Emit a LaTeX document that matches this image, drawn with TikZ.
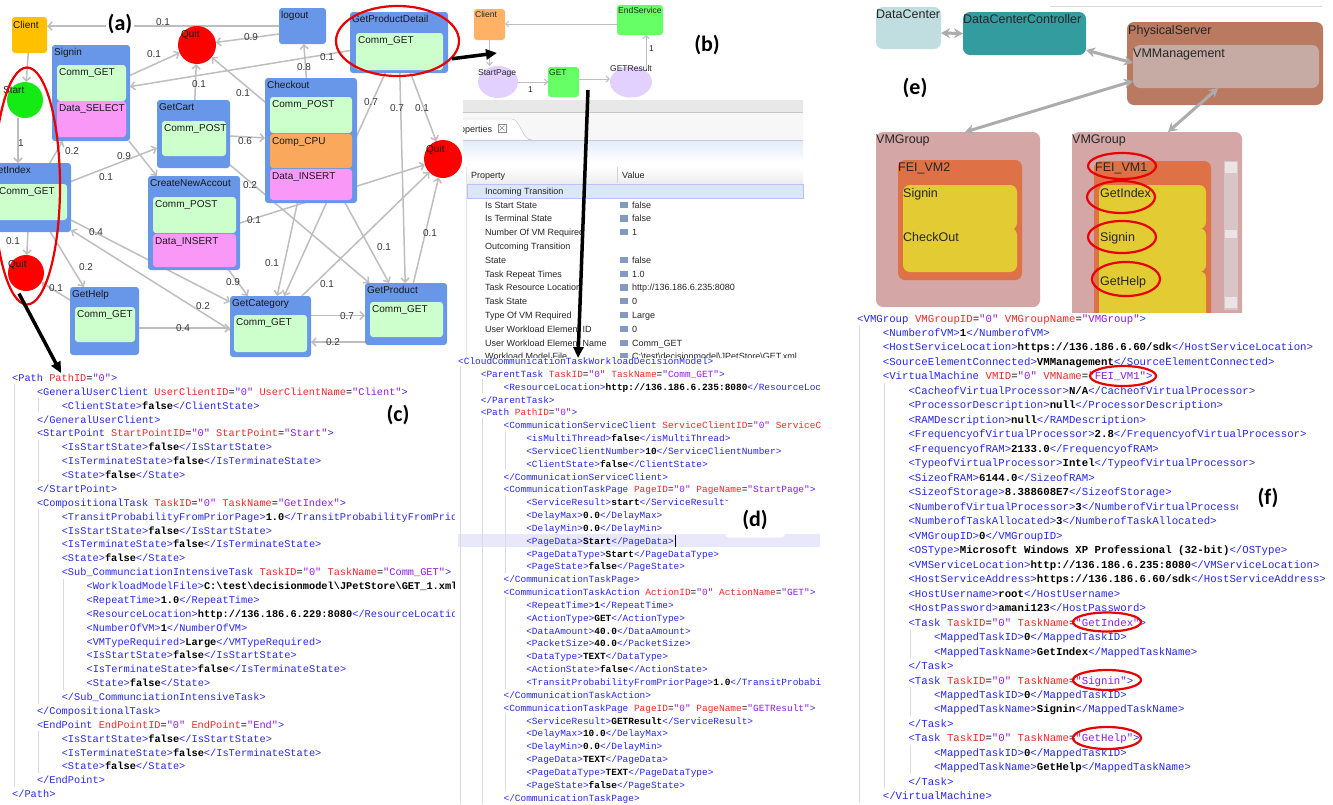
\documentclass[tikz,border=0pt]{standalone}
\usepackage{fontspec}
\setmainfont{Liberation Sans}
\setmonofont{Liberation Mono}
\newfontfamily\labfont{Carlito}
\usetikzlibrary{arrows.meta,calc,shapes.geometric}
\pgfdeclarelayer{bgfill}
\pgfdeclarelayer{bg}
\pgfsetlayers{bgfill,bg,main}
\newcommand\fsz[1]{\fontsize{#1}{#1}\selectfont}
\definecolor{xtag}{RGB}{40,40,235}
\definecolor{xatt}{RGB}{245,40,40}
\definecolor{xval}{RGB}{145,25,240}
\definecolor{boxblue}{RGB}{104,150,232}
\definecolor{ingreen}{RGB}{204,255,204}
\definecolor{inpink}{RGB}{250,152,248}
\definecolor{inorange}{RGB}{250,168,92}
\definecolor{aclient}{RGB}{255,192,0}
\definecolor{quitred}{RGB}{255,0,0}
\definecolor{startgreen}{RGB}{20,235,20}
\definecolor{edgegrey}{RGB}{190,190,190}
\definecolor{labgrey}{RGB}{55,55,55}
\definecolor{bclient}{RGB}{255,178,102}
\definecolor{bgreen}{RGB}{102,255,102}
\definecolor{blav}{RGB}{226,208,255}
\definecolor{dclight}{RGB}{192,222,224}
\definecolor{dcteal}{RGB}{51,156,158}
\definecolor{psbrown}{RGB}{186,121,97}
\definecolor{vmmgrey}{RGB}{198,171,164}
\definecolor{vmgpink}{RGB}{212,166,166}
\definecolor{feiorange}{RGB}{222,114,70}
\definecolor{vyellow}{RGB}{227,203,52}
\definecolor{scrollc}{RGB}{216,198,198}
\definecolor{scrollt}{RGB}{236,228,228}
\definecolor{earrc}{RGB}{172,172,172}
\definecolor{hlrow}{RGB}{218,231,248}
\definecolor{pdhl}{RGB}{232,232,250}
\definecolor{ringred}{RGB}{232,0,0}
\definecolor{iconc}{RGB}{130,155,195}
% XML helpers
\newcommand\xo[1]{\textcolor{xtag}{<#1>}}
\newcommand\xc[1]{\textcolor{xtag}{</#1>}}
\newcommand\xb[1]{\textcolor{xtag}{<#1}}
\newcommand\xe{\textcolor{xtag}{>}}
\newcommand\xa[2]{ \textcolor{xatt}{#1}=\textcolor{xval}{"#2"}}
\newcommand\xv[1]{\textbf{#1}}
\newcommand\xs[2]{\xo{#1}\xv{#2}\xc{#1}}
\newcount\xln
\newcommand\xsetup[5]{\gdef\xP{#1}\gdef\xX{#2}\gdef\xY{#3}\gdef\xI{#4}\gdef\xD{#5}\global\xln=0\relax}
\newcommand\xl[2]{\node[xmlline] (\xP\the\xln) at ({\xX+#1*\xI},{\xY+\the\xln*\xD}) {#2};\global\advance\xln by 1\relax}
\newcommand\xg[3]{\draw[xguide] ({\xX+#1*\xI+2},{\xY-11+#2*\xD}) -- ({\xX+#1*\xI+2},{\xY+3+#3*\xD});}
% graph helpers
\newcommand\atbox[6]{\node[tb, minimum width={#4-(#2)}, minimum height={#5-(#3)}] (#1) at ({(#2+#4)/2},{(#3+#5)/2}) {};\node[tt] (#1-t) at ({#2+2},{#3+3}) {#6};}
\newcommand\aibox[7]{\node[ib, fill=#6, minimum width={#4-(#2)}, minimum height={#5-(#3)}] (#1) at ({(#2+#4)/2},{(#3+#5)/2}) {};\node[tt] (#1-t) at ({#2+2},{#3+3}) {#7};}
\newcommand\prow[3]{\node[ptext] (pp#1) at (485,{194.3+#1*13.8}) {#2};\node[ptext] (pv#1) at (632,{194.3+#1*13.8}) {#3};}
\newcommand\picon[1]{\fill[iconc] (620,{187.8+#1*13.8}) rectangle (628,{194+#1*13.8});}
\tikzset{
 tb/.style={fill=boxblue,rounded corners=3pt,inner sep=0pt,outer sep=0pt,draw=none},
 ib/.style={rounded corners=3pt,inner sep=0pt,outer sep=0pt,draw=none},
 tt/.style={anchor=north west,inner sep=0pt,font=\fsz{10},text=black!90},
 qcirc/.style={circle,inner sep=0pt,outer sep=0pt,draw=none},
 aedge/.style={draw=edgegrey,line width=1.5pt,-{Straight Barb[length=4pt,width=8pt]}},
 elab/.style={inner sep=0pt,font=\fsz{10},text=labgrey},
 bedge/.style={draw=edgegrey,line width=1pt,-{Straight Barb[length=3pt,width=6pt]}},
 btext/.style={anchor=north west,inner sep=0pt,font=\fsz{8.5},text=black!85},
 panlab/.style={inner sep=0pt,font=\labfont\bfseries\fsz{22}},
 ring/.style={ellipse,draw=ringred,line width=2.2pt,inner sep=0pt},
 bigarrow/.style={line width=3.5pt,-{Triangle[length=11pt,width=10pt]}},
 ptext/.style={anchor=base west,inner sep=0pt,font=\fsz{9},text=black!85},
 xmlline/.style={anchor=base west,inner sep=0pt},
 xguide/.style={draw=black!14,line width=0.8pt},
 ebox/.style={rounded corners=7pt,inner sep=0pt,outer sep=0pt,draw=none},
 etext/.style={anchor=north west,inner sep=0pt,font=\fsz{12.5},text=black!85},
 earr/.style={draw=earrc,line width=3pt,{Stealth[length=9pt,width=10pt]}-{Stealth[length=9pt,width=10pt]}},
}
\begin{document}
\begin{tikzpicture}[x=1pt,y=-1pt]
\useasboundingbox (0,0) rectangle (1333,804);
\begin{pgfonlayer}{bgfill}
\fill[white] (0,0) rectangle (1333,804);
\end{pgfonlayer}

% ================= (a) graph =================
\node[ib, fill=aclient, minimum width=35, minimum height=36] (client) at (29.5,35) {};
\node[tt] (client-t) at (13,21) {Client};
\node[qcirc, fill=quitred, minimum size=38] (quitA) at (197,45) {};
\node[tt] (quitA-t) at (181,30) {Quit};
\atbox{logout}{279}{8}{326}{44}{logout}
\atbox{gpd}{350}{12}{448}{73}{GetProductDetail}
\aibox{gpdi}{356}{33}{443}{70}{ingreen}{Comm\_GET}
\atbox{signin}{52}{45}{130}{141}{Signin}
\aibox{signa}{57}{65}{126}{101}{ingreen}{Comm\_GET}
\aibox{signb}{57}{101}{126}{137}{inpink}{Data\_SELECT}
\node[qcirc, fill=startgreen, minimum size=36] (start) at (25,100) {};
\node[tt] (start-t) at (3,86) {Start};
\atbox{getcart}{157}{100}{230}{168}{GetCart}
\aibox{getcarti}{162}{121}{226}{156}{ingreen}{Comm\_POST}
\atbox{checkout}{265}{78}{357}{203}{Checkout}
\aibox{checka}{270}{97}{352}{133}{ingreen}{Comm\_POST}
\aibox{checkb}{270}{134}{352}{168}{inorange}{Comp\_CPU}
\aibox{checkc}{270}{169}{352}{200}{inpink}{Data\_INSERT}
\node[qcirc, fill=quitred, minimum size=38] (quitC) at (443,159) {};
\node[tt] (quitC-t) at (426,145) {Quit};
\atbox{getindex}{-12}{163}{71}{232}{GetIndex}
\aibox{getindexi}{-3}{184}{67}{220}{ingreen}{Comm\_GET}
\atbox{createnew}{148}{176}{240}{270}{CreateNewAccout}
\aibox{createa}{153}{197}{236}{233}{ingreen}{Comm\_POST}
\aibox{createb}{153}{234}{236}{267}{inpink}{Data\_INSERT}
\node[qcirc, fill=quitred, minimum size=36] (quitB) at (26,273) {};
\node[tt] (quitB-t) at (8,260) {Quit};
\atbox{gethelp}{70}{287}{139}{355}{GetHelp}
\aibox{gethelpi}{75}{307}{135}{342}{ingreen}{Comm\_GET}
\atbox{getcat}{230}{296}{311}{357}{GetCategory}
\aibox{getcati}{234}{315}{307}{352}{ingreen}{Comm\_GET}
\atbox{getprod}{365}{283}{447}{345}{GetProduct}
\aibox{getprodi}{370}{302}{443}{337}{ingreen}{Comm\_GET}

\begin{pgfonlayer}{bg}
\draw[aedge] (logout.west) -- (logout.west -| client.east);
\draw[aedge] ([yshift=-8]logout.west) -- (quitA);
\draw[aedge] (signin) -- (quitA);
\draw[aedge] (getcart) -- (quitA);
\draw[aedge] (checkout) -- (quitA);
\draw[aedge] (gpd) -- (signin);
\draw[aedge] (client) -- (start);
\draw[aedge] ([xshift=-7]start.south) -- ([xshift=-7]start.south |- getindex.north);
\draw[aedge] (getindex) -- (signin);
\draw[aedge] (getindex) -- (getcart);
\draw[aedge] (signin) -- (createnew);
\draw[aedge] (getcart) -- (checkout);
\draw[aedge] (checkout) -- (logout);
\draw[aedge] (getcart) -- (getprod);
\draw[aedge] (createnew.east) -- (quitC);
\draw[aedge] (createnew) -- (getcat);
\draw[aedge] ([yshift=-34]getcat.north west) -- ([yshift=2]getindex.south east);
\draw[aedge] ([yshift=12]getindex.south east) -- ([yshift=-6]getcat.north west);
\draw[aedge] ([yshift=-7]gethelp.east) -- ([yshift=-7]gethelp.east -| getcat.west);
\draw[aedge] (gethelp) -- (quitB);
\draw[aedge] (getindex) -- (quitB);
\draw[aedge] (getindex) -- (gethelp);
\draw[aedge] (gpd) -- (getcat);
\draw[aedge] (checkout) -- (getcat);
\draw[aedge] (gpd) -- (getprod);
\draw[aedge] (gpd) -- (quitC);
\draw[aedge] (getprod) -- (quitC);
\draw[aedge] (getcat) -- (quitC);
\draw[aedge] (checkout) -- (getprod);
\draw[aedge] ([yshift=11]getcat.east) -- ([yshift=11]getcat.east -| getprod.west);
\draw[aedge] ([yshift=-28]getprod.west) -- ([yshift=-28]getprod.west -| getcat.east);
\end{pgfonlayer}

\node[elab] (e1) at (163,22) {0.1};
\node[elab] (e2) at (251,37) {0.9};
\node[elab] (e3) at (154,54) {0.1};
\node[elab] (e4) at (199,84) {0.1};
\node[elab] (e5) at (243,93) {0.1};
\node[elab] (e6) at (327,57) {0.1};
\node[elab] (e7) at (21,143) {1};
\node[elab] (e8) at (72,151) {0.2};
\node[elab] (e9) at (106,177) {0.1};
\node[elab] (e10) at (124,156) {0.9};
\node[elab] (e11) at (245,141) {0.6};
\node[elab] (e12) at (304,67) {0.8};
\node[elab] (e13) at (250,185) {0.2};
\node[elab] (e14) at (254,220) {0.1};
\node[elab] (e15) at (233,282) {0.9};
\node[elab] (e16) at (96,232) {0.4};
\node[elab] (e17) at (203,306) {0.2};
\node[elab] (e18) at (183,328) {0.4};
\node[elab] (e19) at (56,288) {0.1};
\node[elab] (e20) at (13,241) {0.1};
\node[elab] (e21) at (86,267) {0.2};
\node[elab] (e22) at (371,102) {0.7};
\node[elab] (e23) at (272,263) {0.1};
\node[elab] (e24) at (397,108) {0.7};
\node[elab] (e25) at (422,108) {0.1};
\node[elab] (e26) at (430,233) {0.1};
\node[elab] (e27) at (327,284) {0.1};
\node[elab] (e28) at (384,247) {0.1};
\node[elab] (e29) at (347,316) {0.7};
\node[elab] (e30) at (333,342) {0.2};
\node[panlab, fill=white, inner sep=2pt] (laba) at (120,24) {(a)};

% ================= (b) =================
\node[ib, fill=bclient, minimum width=31, minimum height=31] (bclient) at (489.5,24.5) {};
\node[btext] (bclient-t) at (475,11) {Client};
\node[ib, fill=bgreen, minimum width=46, minimum height=30] (endsvc) at (640,20) {};
\node[btext] (endsvc-t) at (618,7) {EndService};
\node[ellipse, fill=blav, inner sep=0pt, minimum width=40, minimum height=32] (startpage) at (498,82) {};
\node[btext] (startpage-t) at (478,69) {StartPage};
\node[ib, fill=bgreen, minimum width=31, minimum height=30] (get) at (563.5,82) {};
\node[btext] (get-t) at (549,69) {GET};
\node[ellipse, fill=blav, inner sep=0pt, minimum width=42, minimum height=31] (getresult) at (631,82) {};
\node[btext] (getresult-t) at (610,65) {GETResult};
\coordinate (grtop) at (646,69);
\draw[bedge] ([yshift=-4]endsvc.west) -- ([yshift=-4]endsvc.west -| bclient.east);
\draw[bedge] (bclient.south) -- (bclient.south |- startpage.north);
\draw[bedge] (startpage.east) -- (get.west);
\draw[bedge] ([yshift=3]get.east) -- ([yshift=3]get.east -| getresult.west);
\draw[bedge] (grtop) -- (grtop |- endsvc.south);
\node[btext] (b1) at (528,86) {1};
\node[btext] (b2) at (649,45) {1};
\node[panlab] (labb) at (707,45) {(b)};

% ================= properties panel =================
\begin{scope}
\clip (463,98) rectangle (805,360);
\fill[black!9] (463,100) rectangle (803,112);
\draw[black!22] (463,112) -- (803,112);
\fill[black!3] (463,113) rectangle (803,140);
\draw[black!25, fill=white] (440,140) -- (440,119) -- (512,119) .. controls (520,119) and (522,140) .. (532,140) -- cycle;
\node[ptext] (ptab) at (451,132.5) {Properties};
\draw[black!45, line width=0.6pt] (498,124) rectangle (506,132);
\draw[black!45, line width=0.6pt] (499.5,125.5) -- (504.5,130.5) (504.5,125.5) -- (499.5,130.5);
\shade[top color=hlrow!80, bottom color=white] (463,140.5) rectangle (803,162);
\draw[black!20] (463,140) -- (803,140);
\shade[top color=white, bottom color=black!7] (466,167) rectangle (803,183);
\draw[black!18] (617,167) -- (617,183);
\draw[black!10] (466,167) -- (466,360);
\node[ptext] (phead) at (471,178.5) {Property};
\node[ptext] (vhead) at (622,178.5) {Value};
\fill[hlrow] (467,184) rectangle (803,198);
\draw[blue!25] (467,184) rectangle (803,198);
\prow{0}{Incoming Transition}{}
\prow{1}{Is Start State}{false}\picon{1}
\prow{2}{Is Terminal State}{false}\picon{2}
\prow{3}{Number Of VM Required}{1}\picon{3}
\prow{4}{Outcoming Transition}{}
\prow{5}{State}{false}\picon{5}
\prow{6}{Task Repeat Times}{1.0}\picon{6}
\prow{7}{Task Resource Location}{http://136.186.6.235:8080}\picon{7}
\prow{8}{Task State}{0}\picon{8}
\prow{9}{Type Of VM Required}{Large}\picon{9}
\prow{10}{User Workload Element ID}{0}\picon{10}
\prow{11}{User Workload Element Name}{Comm\_GET}\picon{11}
\prow{12}{Workload Model File}{C:\textbackslash test\textbackslash decisionmodel\textbackslash JPetStore\textbackslash GET.xml}\picon{12}
\end{scope}

% ================= (c) XML =================
\begin{scope}[font=\ttfamily\fsz{10.3}]
\clip (0,362) rectangle (456,804);
\xsetup{xc}{12}{381.5}{24.8}{13.87}
\xg{0}{1}{29}\xg{1}{2}{2}\xg{1}{5}{7}\xg{1}{10}{23}\xg{2}{15}{22}\xg{1}{26}{28}
\xl0{\xb{Path}\xa{PathID}{0}\xe}
\xl1{\xb{GeneralUserClient}\xa{UserClientID}{0}\xa{UserClientName}{Client}\xe}
\xl2{\xs{ClientState}{false}}
\xl1{\xc{GeneralUserClient}}
\xl1{\xb{StartPoint}\xa{StartPointID}{0}\xa{StartPoint}{Start}\xe}
\xl2{\xs{IsStartState}{false}}
\xl2{\xs{IsTerminateState}{false}}
\xl2{\xs{State}{false}}
\xl1{\xc{StartPoint}}
\xl1{\xb{CompositionalTask}\xa{TaskID}{0}\xa{TaskName}{GetIndex}\xe}
\xl2{\xs{TransitProbabilityFromPriorPage}{1.0}}
\xl2{\xs{IsStartState}{false}}
\xl2{\xs{IsTerminateState}{false}}
\xl2{\xs{State}{false}}
\xl2{\xb{Sub\_CommunciationIntensiveTask}\xa{TaskID}{0}\xa{TaskName}{Comm\_GET}\xe}
\xl3{\xo{WorkloadModelFile}\xv{C:\textbackslash test\textbackslash decisionmodel\textbackslash JPetStore\textbackslash GET\_1.xml}\xc{WorkloadModelFile}}
\xl3{\xs{RepeatTime}{1.0}}
\xl3{\xs{ResourceLocation}{http://136.186.6.229:8080}}
\xl3{\xs{NumberOfVM}{1}}
\xl3{\xs{VMTypeRequired}{Large}}
\xl3{\xs{IsStartState}{false}}
\xl3{\xs{IsTerminateState}{false}}
\xl3{\xs{State}{false}}
\xl2{\xc{Sub\_CommunciationIntensiveTask}}
\xl1{\xc{CompositionalTask}}
\xl1{\xb{EndPoint}\xa{EndPointID}{0}\xa{EndPoint}{End}\xe}
\xl2{\xs{IsStartState}{false}}
\xl2{\xs{IsTerminateState}{false}}
\xl2{\xs{State}{false}}
\xl1{\xc{EndPoint}}
\xl0{\xc{Path}}
\end{scope}
\node[panlab] (labc) at (398,415) {(c)};

% ================= (d) XML =================
\fill[white] (455,358) rectangle (825,804);
\fill[pdhl] (458,534) rectangle (820,547);
\begin{scope}[font=\ttfamily\fsz{9.45}]
\clip (455,350) rectangle (820,804);
\xsetup{xd}{458}{364.5}{22.7}{12.84}
\xg{0}{1}{34}\xg{1}{2}{2}\xg{1}{5}{34}\xg{2}{6}{8}\xg{2}{11}{16}\xg{2}{19}{25}\xg{2}{28}{33}
\xl0{\xo{CloudCommunicationTaskWorkloadDecisionModel}}
\xl1{\xb{ParentTask}\xa{TaskID}{0}\xa{TaskName}{Comm\_GET}\xe}
\xl2{\xs{ResourceLocation}{http://136.186.6.235:8080}}
\xl1{\xc{ParentTask}}
\xl1{\xb{Path}\xa{PathID}{0}\xe}
\xl2{\xb{CommunicationServiceClient}\xa{ServiceClientID}{0}\xa{ServiceClientName}{Client}\xe}
\xl3{\xs{isMultiThread}{false}}
\xl3{\xs{ServiceClientNumber}{10}}
\xl3{\xs{ClientState}{false}}
\xl2{\xc{CommunicationServiceClient}}
\xl2{\xb{CommunicationTaskPage}\xa{PageID}{0}\xa{PageName}{StartPage}\xe}
\xl3{\xs{ServiceResult}{start}}
\xl3{\xs{DelayMax}{0.0}}
\xl3{\xs{DelayMin}{0.0}}
\xl3{\xs{PageData}{Start}}
\xl3{\xs{PageDataType}{Start}}
\xl3{\xs{PageState}{false}}
\xl2{\xc{CommunicationTaskPage}}
\xl2{\xb{CommunicationTaskAction}\xa{ActionID}{0}\xa{ActionName}{GET}\xe}
\xl3{\xs{RepeatTime}{1}}
\xl3{\xs{ActionType}{GET}}
\xl3{\xs{DataAmount}{40.0}}
\xl3{\xs{PacketSize}{40.0}}
\xl3{\xs{DataType}{TEXT}}
\xl3{\xs{ActionState}{false}}
\xl3{\xs{TransitProbabilityFromPriorPage}{1.0}}
\xl2{\xc{CommunicationTaskAction}}
\xl2{\xb{CommunicationTaskPage}\xa{PageID}{0}\xa{PageName}{GETResult}\xe}
\xl3{\xs{ServiceResult}{GETResult}}
\xl3{\xs{DelayMax}{10.0}}
\xl3{\xs{DelayMin}{0.0}}
\xl3{\xs{PageData}{TEXT}}
\xl3{\xs{PageDataType}{TEXT}}
\xl3{\xs{PageState}{false}}
\xl2{\xc{CommunicationTaskPage}}
\end{scope}
\draw[black, line width=0.8pt] (675,534.5) -- (675,546.5);
\node[fill=white, rounded corners=4pt, inner sep=0pt, minimum width=60, minimum height=37] (dbg) at (755,519) {};
\node[panlab] (labd) at (755,520) {(d)};

% ================= (e) =================
\draw[black!15, line width=1pt] (1050,6) -- (1322,6);
\node[ebox, fill=dclight, minimum width=65, minimum height=42] (dc) at (908.5,28) {};
\node[etext] (dct) at (876,10) {DataCenter};
\node[ebox, fill=dcteal, minimum width=123, minimum height=43] (dcc) at (1024.5,33.5) {};
\node[etext] (dcct) at (963,14) {DataCenterController};
\node[ebox, fill=psbrown, minimum width=196, minimum height=83] (ps) at (1225,63.5) {};
\node[etext] (pst) at (1128,25) {PhysicalServer};
\node[ebox, fill=vmmgrey, minimum width=186, minimum height=43] (vmm) at (1226,66.5) {};
\node[etext] (vmmt) at (1133,49) {VMManagement};
\node[ebox, fill=vmgpink, minimum width=164, minimum height=175] (vmg1) at (958,219.5) {};
\node[etext] (vmg1t) at (876,135) {VMGroup};
\node[ebox, fill=feiorange, minimum width=124, minimum height=120] (fei2) at (960,220) {};
\node[etext] (fei2t) at (898,163) {FEI\_VM2};
\node[ebox, fill=vyellow, minimum width=114, minimum height=45] (y2a) at (960,207.5) {};
\node[ebox, fill=vyellow, minimum width=114, minimum height=44] (y2b) at (960,250) {};
\fill[vyellow] (903,193) rectangle (960,264);
\node[etext] (y2at) at (903,188) {Signin};
\node[etext] (y2bt) at (903,232) {CheckOut};
\node[ebox, fill=vmgpink, minimum width=170, minimum height=200] (vmg2) at (1157,232) {};
\node[etext] (vmg2t) at (1072,135) {VMGroup};
\node[ebox, fill=feiorange, minimum width=117, minimum height=170] (fei1) at (1152.5,246) {};
\node[etext] (fei1t) at (1095,163) {FEI\_VM1};
\node[ebox, fill=vyellow, minimum width=107, minimum height=44] (y1a) at (1152.5,207) {};
\node[ebox, fill=vyellow, minimum width=107, minimum height=44] (y1b) at (1152.5,250) {};
\node[ebox, fill=vyellow, minimum width=107, minimum height=60] (y1c) at (1152.5,301) {};
\fill[vyellow] (1099,193) rectangle (1150,320);
\node[etext] (y1at) at (1100,188) {GetIndex};
\node[etext] (y1bt) at (1100,232) {Signin};
\node[etext] (y1ct) at (1100,276) {GetHelp};
\fill[scrollc] (1224,161) rectangle (1238,310);
\fill[scrollt] (1225,162) rectangle (1237,173);
\fill[scrollt] (1225,230) rectangle (1237,238);
\fill[scrollt] (1225,297) rectangle (1237,308);
\draw[earr] ([yshift=-5]dc.east) -- (dcc.west);
\draw[earr] ([yshift=-16.5]dcc.east) -- ([yshift=-18]vmm.north west);
\draw[earr] ([yshift=-36]vmm.north west) -- ([xshift=7]vmg1.north);
\draw[earr] ([xshift=-8]vmm.south) -- ([xshift=11]vmg2.north);
\node[panlab] (labe) at (915,88) {(e)};

% ================= (f) XML =================
\fill[white] (850,313) rectangle (1333,804);
\begin{scope}[font=\ttfamily\fsz{10.7}]
\clip (850,308) rectangle (1324,804);
\xsetup{xf}{857}{322}{25.65}{14.48}
\xg{0}{1}{33}\xg{1}{5}{32}\xg{2}{22}{23}\xg{2}{26}{27}\xg{2}{30}{31}
\xl0{\xb{VMGroup}\xa{VMGroupID}{0}\xa{VMGroupName}{VMGroup}\xe}
\xl1{\xs{NumberofVM}{1}}
\xl1{\xs{HostServiceLocation}{https://136.186.6.60/sdk}}
\xl1{\xs{SourceElementConnected}{VMManagement}}
\xl1{\xb{VirtualMachine}\xa{VMID}{0}\xa{VMName}{FEI\_VM1}\xe}
\xl2{\xs{CacheofVirtualProcessor}{N/A}}
\xl2{\xs{ProcessorDescription}{null}}
\xl2{\xs{RAMDescription}{null}}
\xl2{\xs{FrequencyofVirtualProcessor}{2.8}}
\xl2{\xs{FrequencyofRAM}{2133.0}}
\xl2{\xs{TypeofVirtualProcessor}{Intel}}
\xl2{\xs{SizeofRAM}{6144.0}}
\xl2{\xs{SizeofStorage}{8.388608E7}}
\xl2{\xs{NumberofVirtualProcessor}{3}}
\xl2{\xs{NumberofTaskAllocated}{3}}
\xl2{\xs{VMGroupID}{0}}
\xl2{\xs{OSType}{Microsoft Windows XP Professional (32-bit)}}
\xl2{\xs{VMServiceLocation}{http://136.186.6.235:8080}}
\xl2{\xs{HostServiceAddress}{https://136.186.6.60/sdk}}
\xl2{\xs{HostUsername}{root}}
\xl2{\xs{HostPassword}{amani123}}
\xl2{\xb{Task}\xa{TaskID}{0}\xa{TaskName}{GetIndex}\xe}
\xl3{\xs{MappedTaskID}{0}}
\xl3{\xs{MappedTaskName}{GetIndex}}
\xl2{\xc{Task}}
\xl2{\xb{Task}\xa{TaskID}{0}\xa{TaskName}{Signin}\xe}
\xl3{\xs{MappedTaskID}{0}}
\xl3{\xs{MappedTaskName}{Signin}}
\xl2{\xc{Task}}
\xl2{\xb{Task}\xa{TaskID}{0}\xa{TaskName}{GetHelp}\xe}
\xl3{\xs{MappedTaskID}{0}}
\xl3{\xs{MappedTaskName}{GetHelp}}
\xl2{\xc{Task}}
\xl1{\xc{VirtualMachine}}
\end{scope}
\fill[white] (1238,484) rectangle (1333,514);
\node[panlab] (labf) at (1268,498) {(f)};

% ================= red rings and black arrows =================
\node[ring, minimum width=66, minimum height=237] (ringa) at (27,186) {};
\node[ring, minimum width=123, minimum height=70] (ringgpd) at (397.5,41) {};
\node[ring, minimum width=68, minimum height=26] (r1) at (1122,166) {};
\node[ring, minimum width=68, minimum height=32] (r2) at (1121,197) {};
\node[ring, minimum width=68, minimum height=32] (r3) at (1122,237) {};
\node[ring, minimum width=68, minimum height=34] (r4) at (1126,279) {};
\node[ring, minimum width=66, minimum height=20] (r5) at (1123,376) {};
\node[ring, minimum width=68, minimum height=19] (r6) at (1107,622) {};
\node[ring, minimum width=68, minimum height=20] (r7) at (1107,680) {};
\node[ring, minimum width=68, minimum height=22] (r8) at (1107,738) {};
\coordinate (btip1) at (497,53);
\coordinate (btip2) at (578,358);
\coordinate (btip3) at (61,373);
\draw[bigarrow] (ringgpd.-18) -- (btip1);
\draw[bigarrow] ([xshift=9,yshift=7]get.south east) -- (btip2);
\draw[bigarrow] ([xshift=-8,yshift=12]ringa.south) -- (btip3);
\end{tikzpicture}
\end{document}
